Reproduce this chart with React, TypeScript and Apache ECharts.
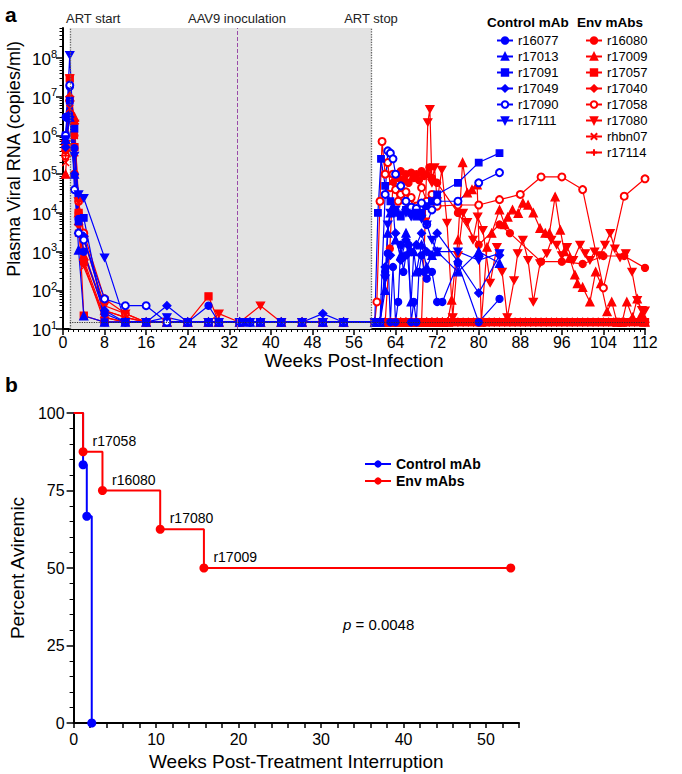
import React, { useEffect, useRef } from "react";
import * as echarts from "echarts";

// ---------------- constants & data ----------------
const L = 15; // limit of detection (copies/ml)
const ART_START = 1.3;
const AAV9 = 33.5;
const ART_STOP = 59.4;

const Y_TICKS = [10, 100, 1000, 1e4, 1e5, 1e6, 1e7, 1e8];
const Y_MINOR_MULT = [2, 3, 4, 5, 6, 7, 8, 9];

const CONTROL_NAMES = ["r16077", "r17013", "r17091", "r17049", "r17090", "r17111"];
const ENV_NAMES = ["r16080", "r17009", "r17057", "r17040", "r17058", "r17080", "rhbn07", "r17114"];

const POST_WEEKS = [60, 61, 62, 63, 64, 65, 66, 67, 68, 69, 70, 71, 72, 73, 74, 75, 76, 77, 78, 79, 80, 81, 82, 83, 84, 85, 86, 87, 88, 89, 90, 91, 92, 93, 94, 95, 96, 97, 98, 99, 100, 101, 102, 103, 104, 105, 106, 107, 108, 109, 110, 111, 112];

// Control mAb animals
const R16077 = [[0.5, 3e6], [1.3, 1.8e7], [2.2, 4.7e5], [3, 7e3], [4, 1e3], [8, 25], [12, L], [16, L], [20, L], [24, L], [28, 40], [30, L], [34, L], [35, L], [36, L], [38, L], [42, L], [46, L], [50, L], [54, L], [60, L], [60.5, L], [61, L], [62, 300], [62.5, 900], [63, L], [63.5, 400], [64, L], [64.5, 50], [65, 1500], [65.5, 300], [66, 800], [66.5, 1500], [67, L], [67.5, 50], [68, L], [68.5, 300], [69, 800], [69.5, 300], [70, 200], [71, 300], [72, 50], [73, 50], [76, 500], [80, L], [84, 60]];
const R17013 = [[0.5, 8e5], [1.3, 3e6], [2.2, 1e5], [3, 1100], [4, 22], [8, L], [12, L], [16, L], [20, L], [24, L], [28, L], [30, L], [34, L], [36, L], [38, L], [42, L], [46, L], [50, L], [54, L], [60, L], [61, L], [62, 100], [62.5, 3e3], [63, 1e4], [63.5, 1.5e4], [64, 2e3], [65, 800], [66, 3e3], [67, 50], [67.5, 1e3], [68, 300], [69, 1500], [70, 400], [71, 800], [72, 1e3], [76, 300], [80, 1e3], [84, 500]];
const R17091 = [[0.5, 1e6], [1.3, 8e6], [2.2, 1.5e6], [3, 6e3], [4, 7.4e3], [8, L], [12, L], [16, L], [20, L], [24, L], [28, L], [30, L], [34, L], [35, L], [36, L], [38, L], [42, L], [46, L], [50, L], [54, L], [60, L], [60.6, 1e4], [61.2, 2.5e5], [62, 5e4], [63, 2e4], [64, 1e4], [65, 8e3], [66, 1.2e4], [67, 1e4], [68, 8e3], [69, 1e4], [70, 1.5e4], [71, 2e4], [72, 3e4], [76, 6e4], [80, 2e5], [84, 3.5e5]];
const R17049 = [[0.5, 5e5], [1.3, 3e6], [2.2, 1e5], [3, 3e3], [4, 2.5e3], [8, 30], [12, L], [16, L], [20, 40], [24, L], [28, L], [30, L], [34, L], [36, L], [38, L], [42, L], [46, L], [50, 25], [54, L], [60, L], [61, L], [62, 400], [63, 800], [64, 3e3], [65, 600], [66, 2e3], [67, 1e3], [68, 1.5e3], [69, 3e3], [70, 1e3], [71, 800], [72, 3e3], [76, 550], [80, 85], [84, 800]];
const R17090 = [[0.5, 1e6], [1.3, 2e7], [2.2, 4e4], [3, 3e3], [4, 2e3], [8, 60], [12, 40], [16, 40], [20, L], [24, L], [28, L], [30, L], [34, L], [36, L], [38, L], [42, L], [46, L], [50, L], [54, L], [60, L], [61, L], [62, 3e4], [62.5, 4e5], [63, 3.5e5], [63.5, 2.5e5], [64, 1e5], [65, 5e4], [66, 2e4], [67, 1.4e4], [68, 1.3e4], [69, 1.8e4], [70, 5e3], [71, 1.2e4], [72, 2e4], [76, 2e4], [80, 6e4], [84, 1.1e5]];
const R17111 = [[0.5, 8e5], [1.3, 1.2e8], [2.2, 3e5], [3, 3e4], [4, 2.4e4], [8, 700], [12, L], [16, L], [20, 20], [24, L], [28, L], [30, L], [34, L], [36, L], [38, L], [42, L], [46, L], [50, L], [54, L], [60, L], [61, L], [62, 200], [62.5, 5e3], [63, 1e4], [64, 1.2e4], [65, 9e3], [66, 1e4], [67, 8e3], [68, 1e4], [69, 7e3], [70, 5e3], [71, 2e3], [72, 1e3], [76, 1e3], [80, 600], [84, 900]];

// Env mAbs animals
const R16080_ART = [[0.5, 5e5], [1.3, 2e7], [2.2, 1e6], [3, 1e4], [4, 500], [8, L], [12, L], [16, L], [20, L], [24, L], [28, L], [30, L], [34, L], [38, L], [42, L], [46, L], [50, L], [54, L]];
const R16080_REBOUND = [[62.9, 1.2e3], [63.5, 6e4], [64, 1e5], [64.5, 8e4], [65, 1.2e5], [65.5, 7e4], [66, 1e5], [66.5, 6e4], [67, 1.1e5], [67.5, 8e4], [68, 1e5], [68.5, 7e4], [69, 1.2e5], [69.5, 9e4], [70, 1e5], [70.5, 1.5e5], [71, 8e4], [72, 6e4], [76, 1e4], [80, 1.5e3], [84, 5e3], [86, 3e3], [92, 550], [96, 550], [100, 480], [104, 770], [108, 770], [112, 380]];
const R17009_ART = [[0.5, 1e5], [1.3, 1e7], [2.2, 3e6], [3, 1e4], [4, 800], [8, 30], [12, 20], [16, L], [20, L], [24, L], [28, L], [30, L], [34, L], [38, L], [42, L], [46, L], [50, L], [54, L]];
const R17009_REBOUND = [[74.8, 56], [76, 2e3], [76.9, 2e5], [77.8, 3.3e4], [78.7, 4e4], [79.7, 5.3e4], [80.5, L], [81.6, 1.3e3], [82.5, 3e3], [84, 1.2e4], [85, 5e3], [85.6, 7.8e3], [86.5, 1.2e4], [87.6, 9.8e3], [88.5, 1.8e4], [89.5, 1.6e4], [90.5, 1e4], [91.8, 4e3], [92.8, 3e3], [93.6, 3e3], [94.7, 2.6e4], [95.7, 3.6e3], [96.5, 1e3], [97.5, 700], [98.5, 250], [99, 150], [100, 120], [101.4, 50], [102.5, 300], [103.5, 150], [104.7, 28], [105.6, 50], [106.6, L], [107.6, L], [108.5, 50], [109.6, 20], [110.5, 60], [111.4, 25], [112, L]];
const R17057_ART = [[0.5, 5e5], [1.3, 3e7], [2.2, 5e5], [3, 1e4], [4, 22], [8, L], [12, L], [16, L], [20, L], [24, L], [28, 70], [30, L], [34, L], [38, L], [42, L], [46, L], [50, L], [54, L]];
const R17040_ART = [[0.5, 4e5], [1.3, 1e7], [2.2, 2e6], [3, 5e3], [4, 600], [8, 20], [12, L], [16, L], [20, L], [24, L], [28, L], [30, L], [34, L], [38, L], [42, L], [46, L], [50, L], [54, L]];
const R17058_ART = [[0.5, 3e5], [1.3, 8e6], [2.2, 1e5], [3, 2e4], [4, 3e3], [8, 60], [12, 25], [16, L], [20, L], [24, L], [28, L], [30, L], [34, L], [38, L], [42, L], [46, L], [50, L], [54, L], [60, L]];
const R17058_REBOUND = [[60.4, 50], [61, 2e4], [61.4, 7e5], [62, 1e5], [62.5, 2e5], [63, 4.5e4], [63.5, 1e5], [64, 4e4], [64.5, 2e4], [65, 3e4], [66, 3.5e4], [66.5, 1.8e4], [67, 2.5e4], [68, 1.5e4], [69, 4.5e4], [70, 2e4], [71, 3e4], [72, 1.5e4], [76, 1.6e4], [80, 1.6e4], [84, 2.2e4], [88, 3e4], [92, 8.5e4], [96, 8.5e4], [100, 4e4], [104, 115], [108, 2.7e4], [112, 7.6e4]];
const R17080_ART = [[0.5, 6e5], [1.3, 3e7], [2.2, 2e6], [3, 2e4], [4, 2e3], [8, 40], [12, 25], [16, L], [20, L], [24, L], [28, L], [30, 25], [34, L], [38, 40], [42, L], [46, L], [50, L], [54, L]];
const R17080_REBOUND = [[69.7, 6e3], [70.2, 2.2e6], [70.6, 4.8e6], [71, 6e4], [71.5, 1.5e5], [72, 2e4], [72.9, 1.3e5], [73.9, 5.5e3], [75, 20], [76, 800], [77, 1e4], [77.8, 5.8e3], [78.9, 2e3], [79.8, 8e3], [80.8, 3.6e3], [82.2, 155], [83.5, 1.3e3], [84.5, 300], [85.5, 20], [86.8, 180], [87.5, 900], [88.5, 2e3], [89.5, 600], [90.5, 50], [91.8, 500], [93.1, 900], [94, 2e3], [95, 1.5e3], [96, 800], [97, 1.3e3], [98.2, 600], [99.5, 1.5e3], [100.5, 900], [101.4, 600], [102.3, 1e3], [103.3, 800], [104.3, 1.5e3], [105.3, 3e3], [106.2, 1.2e3], [107.2, 700], [108.3, 900], [109.5, 300], [110.5, 56], [111.4, 31], [112, 30]];
const RHBN07_ART = [[0.5, 2e5], [1.3, 5e6], [2.2, 1e6], [3, 3e3], [4, 400], [8, 20], [12, L], [16, L], [20, L], [24, L], [28, L], [30, L], [34, L], [38, L], [42, L], [46, L], [50, L], [54, L]];
const R17114_ART = [[0.5, 3e5], [1.3, 1e7], [2.2, 3e5], [3, 5e3], [4, 1e3], [8, 30], [12, 20], [16, L], [20, L], [24, L], [28, L], [30, L], [34, L], [38, L], [42, L], [46, L], [50, L], [54, L]];

// Kaplan-Meier (panel b)
const KM_CONTROL = [[0, 100], [1.15, 83.3], [1.6, 66.7], [2.2, 0]];
const KM_ENV = [[0, 100], [1.15, 87.5], [3.5, 75], [10.5, 62.5], [15.8, 50], [53, 50]];
const KM_ENV_LABELS = ["", "r17058", "r16080", "r17080", "r17009", ""];
const P_VALUE = "0.0048";

// ---------------- styling ----------------
const BLUE = "#0000ff";
const RED = "#ff0000";
const FONT = "'Liberation Sans', Arial, Helvetica, sans-serif";
const DOWN_TRI = "path://M0,0L10,0L5,9Z";
const CROSS_X = "path://M0,0L10,10M10,0L0,10";
const PLUS = "path://M5,0L5,10M0,5L10,5";

const floorBefore = (w: number) => POST_WEEKS.filter((x) => x < w).map((x) => [x, L]);
const floorAll = () => POST_WEEKS.map((x) => [x, L]);

function vl(name: string, color: string, symbol: string, size: any, data: any[]) {
  return {
    type: "line",
    name,
    xAxisIndex: 0,
    yAxisIndex: 0,
    data,
    symbol,
    symbolSize: size,
    showAllSymbol: true,
    z: 3,
    lineStyle: { color, width: 1.2 },
    itemStyle: { color, borderColor: color, borderWidth: 1.3 },
    emphasis: { disabled: true },
    silent: true,
  };
}

function buildOption() {
  const yMinor: number[] = [];
  Y_TICKS.forEach((t) => Y_MINOR_MULT.forEach((m) => { if (t * m <= 6e8) yMinor.push(t * m); }));

  const envSeries = [
    vl("r16080", RED, "circle", 7, [...R16080_ART, ...floorBefore(62.9), ...R16080_REBOUND]),
    vl("r17009", RED, "triangle", 8, [...R17009_ART, ...floorBefore(74.8), ...R17009_REBOUND]),
    vl("r17058", RED, "emptyCircle", 7, [...R17058_ART, ...R17058_REBOUND]),
    vl("r17080", RED, DOWN_TRI, [8, 7], [...R17080_ART, ...floorBefore(69.7), ...R17080_REBOUND]),
    vl("r17040", RED, "diamond", 8, [...R17040_ART, ...floorAll()]),
    vl("rhbn07", RED, CROSS_X, 7, [...RHBN07_ART, ...floorAll()]),
    vl("r17114", RED, PLUS, 8, [...R17114_ART, ...floorAll()]),
    vl("r17057", RED, "rect", 7, [...R17057_ART, ...floorAll()]),
  ];
  const ctrlSeries = [
    vl("r16077", BLUE, "circle", 7, R16077),
    vl("r17013", BLUE, "triangle", 8, R17013),
    vl("r17091", BLUE, "rect", 6.5, R17091),
    vl("r17049", BLUE, "diamond", 8, R17049),
    vl("r17090", BLUE, "emptyCircle", 7, R17090),
    vl("r17111", BLUE, DOWN_TRI, [8, 7], R17111),
  ];

  const axisLine = { show: true, onZero: false, lineStyle: { color: "#000", width: 2 } };
  const tickStyle = { color: "#000", width: 1.5 };

  const kmData = (pts: number[][], labels?: string[]) =>
    pts.map((p, i) => {
      const item: any = { value: p };
      if (i === 0) item.symbol = "none";
      if (labels && labels[i]) item.label = { show: true, formatter: labels[i], position: "right", offset: [0, -11], fontSize: 14, color: "#000", fontFamily: FONT };
      return item;
    });

  const smallLegend = {
    orient: "vertical", top: 29, itemWidth: 16, itemHeight: 8, itemGap: 3,
    selectedMode: false,
    textStyle: { fontSize: 13, color: "#000", fontFamily: FONT },
  };

  return {
    animation: false,
    textStyle: { fontFamily: FONT, color: "#000" },
    grid: [
      { left: 63, top: 28, width: 582, height: 301 },
      { left: 63, top: 413, width: 456, height: 310 },
    ],
    xAxis: [
      {
        gridIndex: 0, type: "value", min: 0, max: 112, interval: 8,
        axisLine, axisTick: { length: 6, lineStyle: tickStyle },
        minorTick: { show: true, splitNumber: 8, length: 3, lineStyle: { color: "#000", width: 1 } },
        splitLine: { show: false }, minorSplitLine: { show: false },
        axisLabel: { fontSize: 16, color: "#000", margin: 5, fontFamily: FONT },
        name: "Weeks Post-Infection", nameLocation: "middle", nameGap: 19,
        nameTextStyle: { fontSize: 19, color: "#000", fontFamily: FONT },
      },
      {
        gridIndex: 1, type: "value", min: 0, max: 54, interval: 2,
        axisLine, axisTick: { length: 5, lineStyle: tickStyle },
        splitLine: { show: false },
        axisLabel: { fontSize: 16, color: "#000", margin: 8, fontFamily: FONT, formatter: (v: number) => (v % 10 === 0 ? String(v) : "") },
        name: "Weeks Post-Treatment Interruption", nameLocation: "middle", nameGap: 29,
        nameTextStyle: { fontSize: 19, color: "#000", fontFamily: FONT },
      },
    ],
    yAxis: [
      {
        gridIndex: 0, type: "log", logBase: 10, min: 10, max: 6e8,
        axisLine, axisTick: { show: true, length: 3.5, lineStyle: { color: "#000", width: 1 }, customValues: yMinor },
        splitLine: { show: false },
        axisLabel: {
          customValues: Y_TICKS, margin: 6, color: "#000",
          formatter: (v: number) => `{b|10}{s|${Math.round(Math.log10(v))}}`,
          rich: {
            b: { fontSize: 17, fontFamily: FONT, color: "#000", verticalAlign: "bottom" },
            s: { fontSize: 11, fontFamily: FONT, color: "#000", verticalAlign: "bottom", padding: [0, 0, 9, 0] },
          },
        },
      },
      {
        gridIndex: 0, type: "log", logBase: 10, min: 10, max: 6e8, position: "left",
        axisLine: { show: false }, splitLine: { show: false },
        axisTick: { show: true, length: 7, lineStyle: tickStyle, customValues: Y_TICKS },
        axisLabel: { show: false },
      },
      {
        gridIndex: 1, type: "value", min: 0, max: 100, interval: 25,
        axisLine, axisTick: { length: 7, lineStyle: tickStyle },
        minorTick: { show: true, splitNumber: 5, length: 4, lineStyle: { color: "#000", width: 1 } },
        splitLine: { show: false }, minorSplitLine: { show: false },
        axisLabel: { fontSize: 16, color: "#000", margin: 9, fontFamily: FONT },
        name: "Percent Aviremic", nameLocation: "middle", nameGap: 40,
        nameTextStyle: { fontSize: 19, color: "#000", fontFamily: FONT },
      },
    ],
    legend: [
      { ...smallLegend, left: 491, data: CONTROL_NAMES },
      { ...smallLegend, left: 580, data: ENV_NAMES },
      {
        orient: "vertical", left: 359, top: 452, itemWidth: 26, itemHeight: 9, itemGap: 3,
        data: ["Control mAb", "Env mAbs"], selectedMode: false,
        textStyle: { fontSize: 14, fontWeight: "bold", color: "#000", fontFamily: FONT },
      },
    ],
    graphic: [
      { type: "text", x: 5, y: 14, style: { text: "a", font: `bold 21px ${FONT}`, fill: "#000", verticalAlign: "middle" } },
      { type: "text", x: 5, y: 384, style: { text: "b", font: `bold 21px ${FONT}`, fill: "#000", verticalAlign: "middle" } },
      { type: "text", x: 66, y: 18, style: { text: "ART start", font: `13px ${FONT}`, fill: "#222", verticalAlign: "middle" } },
      { type: "text", x: 237, y: 18, style: { text: "AAV9 inoculation", font: `13px ${FONT}`, fill: "#222", align: "center", verticalAlign: "middle" } },
      { type: "text", x: 371, y: 18, style: { text: "ART stop", font: `13px ${FONT}`, fill: "#222", align: "center", verticalAlign: "middle" } },
      { type: "text", x: 487, y: 22, style: { text: "Control mAb", font: `bold 13.5px ${FONT}`, fill: "#000", verticalAlign: "middle" } },
      { type: "text", x: 577, y: 22, style: { text: "Env mAbs", font: `bold 13.5px ${FONT}`, fill: "#000", verticalAlign: "middle" } },
      { type: "text", x: 14, y: 159, rotation: Math.PI / 2, style: { text: "Plasma Viral RNA (copies/ml)", font: `18px ${FONT}`, fill: "#000", align: "center", verticalAlign: "middle" } },
      {
        type: "text", x: 343, y: 624,
        style: {
          text: `{i|p} = ${P_VALUE}`, font: `15px ${FONT}`, fill: "#000", verticalAlign: "middle",
          rich: { i: { fontStyle: "italic", fontSize: 15, fontFamily: FONT } },
        },
      },
    ],
    series: [
      {
        type: "line", name: "_art", xAxisIndex: 0, yAxisIndex: 0, data: [], z: 1, silent: true,
        markArea: { silent: true, itemStyle: { color: "#e3e3e3" }, data: [[{ xAxis: ART_START }, { xAxis: ART_STOP }]] },
        markLine: {
          silent: true, symbol: ["none", "none"], label: { show: false },
          data: [
            { xAxis: ART_START, lineStyle: { color: "#666", type: "dotted", width: 1.3 } },
            { xAxis: AAV9, lineStyle: { color: "#9a4aa8", type: "dashed", width: 1 } },
            { xAxis: ART_STOP, lineStyle: { color: "#666", type: "dotted", width: 1.3 } },
          ],
        },
      },
      ...envSeries,
      ...ctrlSeries,
      {
        type: "line", name: "_lod", xAxisIndex: 0, yAxisIndex: 0, data: [], z: 10, silent: true,
        markLine: {
          silent: true, symbol: ["none", "none"], label: { show: false },
          lineStyle: { color: "#333", type: "dotted", width: 1.2 },
          data: [[{ coord: [ART_START, L] }, { coord: [112, L] }]],
        },
      },
      {
        type: "line", name: "Control mAb", xAxisIndex: 1, yAxisIndex: 2, step: "end",
        data: kmData(KM_CONTROL), symbol: "circle", symbolSize: 9,
        lineStyle: { color: BLUE, width: 2 }, itemStyle: { color: BLUE }, emphasis: { disabled: true }, silent: true,
      },
      {
        type: "line", name: "Env mAbs", xAxisIndex: 1, yAxisIndex: 2, step: "end",
        data: kmData(KM_ENV, KM_ENV_LABELS), symbol: "circle", symbolSize: 9,
        lineStyle: { color: RED, width: 2 }, itemStyle: { color: RED }, emphasis: { disabled: true }, silent: true,
      },
    ],
  };
}

export default function App() {
  const ref = useRef<HTMLDivElement>(null);
  useEffect(() => {
    const chart = echarts.init(ref.current!, null, { renderer: "svg" });
    chart.setOption(buildOption() as any);
    return () => chart.dispose();
  }, []);
  return <div ref={ref} style={{ position: "absolute", left: 0, top: 0, width: 682, height: 774, background: "#fff" }} />;
}
